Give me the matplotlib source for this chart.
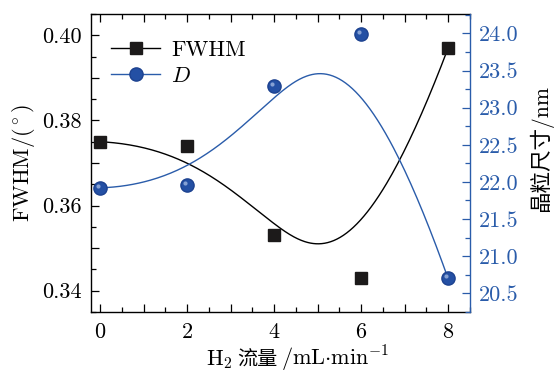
import numpy as np
import matplotlib
matplotlib.use("Agg")
import matplotlib.pyplot as plt
from matplotlib.lines import Line2D
from matplotlib.ticker import MultipleLocator, FuncFormatter
from matplotlib.transforms import offset_copy
from matplotlib.offsetbox import TextArea, HPacker, AnchoredOffsetbox

plt.rcParams['font.family'] = ['cmr10', 'Noto Sans CJK SC', 'DejaVu Sans']
plt.rcParams['mathtext.fontset'] = 'cm'
plt.rcParams['axes.formatter.use_mathtext'] = True
plt.rcParams['axes.unicode_minus'] = False

# data
h2_flow = [0, 2, 4, 6, 8]
fwhm = [0.375, 0.374, 0.353, 0.343, 0.397]
grain = [21.92, 21.96, 23.29, 23.99, 20.70]

blue = '#2a5caa'
fs = 16


# Origin-style B-spline with the data as control points
def bspline(cx, cy, n=300):
    k = 3
    m = len(cx)
    knots = np.concatenate([np.zeros(k), np.linspace(0, 1, m - k + 1), np.ones(k)])
    t = np.linspace(0, 1 - 1e-9, n)

    def N(i, d):
        if d == 0:
            return ((knots[i] <= t) & (t < knots[i + 1])).astype(float)
        out = np.zeros_like(t)
        if knots[i + d] > knots[i]:
            out += (t - knots[i]) / (knots[i + d] - knots[i]) * N(i, d - 1)
        if knots[i + d + 1] > knots[i + 1]:
            out += (knots[i + d + 1] - t) / (knots[i + d + 1] - knots[i + 1]) * N(i + 1, d - 1)
        return out

    B = np.array([N(i, k) for i in range(m)])
    return B.T @ np.array(cx, float), B.T @ np.array(cy, float)


fig, ax = plt.subplots(figsize=(5.54, 3.73), dpi=100)
fig.subplots_adjust(left=0.165, right=0.848, top=0.962, bottom=0.164)
ax2 = ax.twinx()

# FWHM
sx, sy = bspline(h2_flow, fwhm)
ax.plot(sx, sy, color='black', lw=1.0)
ax.plot(h2_flow, fwhm, ls='none', marker='s', ms=8.5, color='#1c1a1a', mec='#1c1a1a')

# grain size
gx, gy = bspline(h2_flow, grain)
ax2.plot(gx, gy, color=blue, lw=1.0)
ax2.plot(h2_flow, grain, ls='none', marker='o', ms=9.5, color='#2450a4', mec='#1d4290')
hl = offset_copy(ax2.transData, fig=fig, x=-1.5, y=1.5, units='points')
ax2.plot(h2_flow, grain, ls='none', marker='o', ms=3, color='#9fb6e0', mec='none',
         alpha=0.8, transform=hl)

ax.set_xlim(-0.2, 8.5)
ax.set_ylim(0.335, 0.405)
ax2.set_ylim(20.25, 24.26)

ax.xaxis.set_major_locator(MultipleLocator(1))
ax.xaxis.set_minor_locator(MultipleLocator(0.5))
ax.xaxis.set_major_formatter(FuncFormatter(lambda v, p: '%d' % v if round(v) % 2 == 0 else ''))
ax.yaxis.set_major_locator(MultipleLocator(0.01))
ax.yaxis.set_minor_locator(MultipleLocator(0.005))
ax.yaxis.set_major_formatter(FuncFormatter(lambda v, p: '%.2f' % v if round(v * 100) % 2 == 0 else ''))
ax2.yaxis.set_major_locator(MultipleLocator(0.5))
ax2.yaxis.set_minor_locator(MultipleLocator(0.25))
ax2.yaxis.set_major_formatter(FuncFormatter(lambda v, p: '%.1f' % v))

ax.tick_params(which='both', direction='in', top=True, right=False, labelsize=fs)
ax.tick_params(which='major', length=6, width=0.9)
ax.tick_params(which='minor', length=3.5, width=0.9)
ax.tick_params(axis='x', pad=8)
ax.tick_params(axis='y', pad=7)
ax2.tick_params(which='both', direction='in', colors=blue, labelsize=fs, pad=6.5)
ax2.tick_params(which='major', length=6, width=0.9)
ax2.tick_params(which='minor', length=3.5, width=0.9)
ax2.spines['right'].set_color(blue)
for s in ['left', 'bottom', 'top']:
    ax.spines[s].set_linewidth(1.0)
    ax2.spines[s].set_visible(False)
ax2.spines['right'].set_linewidth(1.0)
ax.spines['right'].set_visible(False)

# x label in pieces so the Chinese part gets a CJK font
parts = [
    TextArea(r'H$_2$', textprops=dict(fontsize=fs)),
    TextArea('流量', textprops=dict(fontsize=fs - 1.5, family=['Noto Sans CJK SC'])),
    TextArea(r'/mL$\cdot$min$^{-1}$', textprops=dict(fontsize=fs)),
]
xlab = AnchoredOffsetbox(loc='upper center', child=HPacker(children=parts, pad=0, sep=3, align='baseline'),
                         bbox_to_anchor=(0.546, -0.108), bbox_transform=ax.transAxes,
                         frameon=False, pad=0, borderpad=0)
ax.add_artist(xlab)

ax.set_ylabel(r'FWHM/($^\circ$)', fontsize=fs)
ax.yaxis.set_label_coords(-0.145, 0.5)
ax2.set_ylabel('晶粒尺寸/nm', fontsize=fs - 0.5)
ax2.yaxis.set_label_coords(1.157, 0.55)

handles = [
    Line2D([], [], color='black', lw=1.0, marker='s', ms=8.5, mfc='#1c1a1a', mec='#1c1a1a'),
    Line2D([], [], color=blue, lw=1.0, marker='o', ms=9.5, mfc='#2450a4', mec='#1d4290'),
]
ax2.legend(handles, ['FWHM', r'$D$'], loc='upper left', frameon=False, fontsize=fs,
           handlelength=2.2, handletextpad=0.5, bbox_to_anchor=(0.0, 0.98), labelspacing=0.3)

plt.savefig('out.png', dpi=100)
